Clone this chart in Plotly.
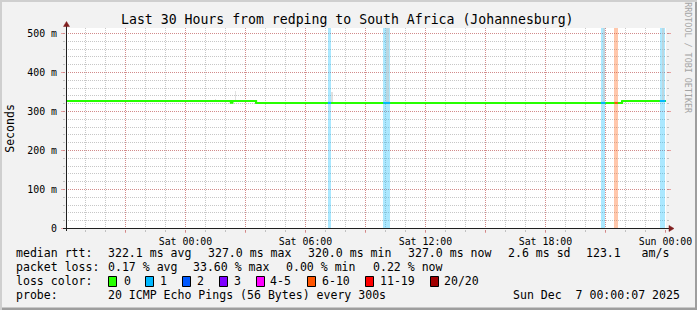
import plotly.graph_objects as go
import pandas as pd

# ---------------- data ----------------
x_start = "2025-12-05 18:01:37"
x_end = "2025-12-07 00:01:37"
y_min, y_max = -1.28, 514.1

x_tick_times = ["2025-12-05 21:00", "2025-12-06 00:00", "2025-12-06 03:00", "2025-12-06 06:00",
                "2025-12-06 09:00", "2025-12-06 12:00", "2025-12-06 15:00", "2025-12-06 18:00",
                "2025-12-06 21:00", "2025-12-07 00:00"]
x_tick_labels = ["", "Sat 00:00", "", "Sat 06:00", "", "Sat 12:00", "", "Sat 18:00", "", "Sun 00:00"]
y_tick_values = [0, 100, 200, 300, 400, 500]
y_tick_labels = ["0", "100 m", "200 m", "300 m", "400 m", "500 m"]

median_times = ["2025-12-05 18:00:07", "2025-12-06 02:16", "2025-12-06 02:21", "2025-12-06 03:32",
                "2025-12-06 21:50", "2025-12-07 00:01:37"]
median_ms = [327.0, 322.5, 327.0, 322.0, 327.0, 327.0]

loss_start = ["2025-12-06 07:07", "2025-12-06 09:53", "2025-12-06 20:46", "2025-12-06 21:27", "2025-12-06 23:43"]
loss_end = ["2025-12-06 07:17", "2025-12-06 10:14", "2025-12-06 21:00", "2025-12-06 21:37", "2025-12-07 00:00"]
loss_bucket = ["1", "1", "1", "6-10", "1"]

smoke_start = ["2025-12-06 01:28", "2025-12-06 02:28", "2025-12-06 07:17", "2025-12-06 10:02",
               "2025-12-06 20:52", "2025-12-06 23:50"]
smoke_end = ["2025-12-06 01:31", "2025-12-06 02:31", "2025-12-06 07:23", "2025-12-06 10:11",
             "2025-12-06 20:58", "2025-12-06 23:56"]
smoke_low = [327, 327, 324, 322, 322, 327]
smoke_high = [333, 353, 350, 514, 514, 514]

dark_start = ["2025-12-06 02:14", "2025-12-06 03:29", "2025-12-06 21:47"]
dark_end = ["2025-12-06 02:17", "2025-12-06 03:32", "2025-12-06 21:50"]
dark_low = [322, 322, 322]
dark_high = [327, 327, 327]

loss_labels = ["0", "1", "2", "3", "4-5", "6-10", "11-19", "20/20"]
loss_colors = ["#26ff00", "#00b8ff", "#0059ff", "#7e00ff", "#ff00ff", "#ff5500", "#ff0000", "#a10000"]

title_text = "Last 30 Hours from redping to South Africa (Johannesburg)"
rtt_head = "median rtt:"
rtt_stats = ["322.1 ms avg", "327.0 ms max", "320.0 ms min", "327.0 ms now", "2.6 ms sd", "123.1   am/s"]
loss_head = "packet loss:"
loss_stats = ["0.17 % avg", "33.60 % max", "0.00 % min", "0.22 % now"]
color_head = "loss color:"
probe_head = "probe:"
probe_text = "20 ICMP Echo Pings (56 Bytes) every 300s"
stamp_text = "Sun Dec  7 00:00:07 2025"
watermark = "RRDTOOL / TOBI OETIKER"
y_title = "Seconds"

# ---------------- layout geometry (pixels) ----------------
W, H = 697, 310
L, R, T, B = 66, 31, 28, 81
PW, PH = W - L - R, H - T - B
FONT = "DejaVu Sans Mono"
BACK = "#F2F2F2"
GRID = "rgba(143,143,143,0.5)"
MGRID = "rgba(222,79,79,0.5)"
ARROW = "#801F1F"
AXIS = "#1F1F1F"


def px(x):
    return (x - L) / PW


def py(y):
    return (H - B - y) / PH


def nb(s):
    return s.replace(" ", "\u00a0")


def rgba(hexc, a):
    h = hexc.lstrip("#")
    return "rgba(%d,%d,%d,%s)" % (int(h[0:2], 16), int(h[2:4], 16), int(h[4:6], 16), a)


bucket_color = dict(zip(loss_labels, loss_colors))
mt = [pd.Timestamp(t) for t in median_times]


def median_at(t):
    v = median_ms[0]
    for ti, vi in zip(mt, median_ms):
        if ti <= t:
            v = vi
    return v


def bar_geom(starts, ends):
    s = [pd.Timestamp(a) for a in starts]
    e = [pd.Timestamp(b) for b in ends]
    centers = [a + (b - a) / 2 for a, b in zip(s, e)]
    widths = [(b - a).total_seconds() * 1000 for a, b in zip(s, e)]
    return s, e, centers, widths

fig = go.Figure()

# loss background bars
ls, le, lc, lw = bar_geom(loss_start, loss_end)
fig.add_trace(go.Bar(x=lc, y=[y_max] * len(lc), base=[0] * len(lc), width=lw,
                     marker=dict(color=[rgba(bucket_color[b], 0.33) for b in loss_bucket], line=dict(width=0)),
                     hoverinfo="skip"))

# smoke
ss, se, sc, sw = bar_geom(smoke_start, smoke_end)
fig.add_trace(go.Bar(x=sc, y=[h - l for h, l in zip(smoke_high, smoke_low)], base=smoke_low, width=sw,
                     marker=dict(color="rgba(200,200,200,0.55)", line=dict(width=0)), hoverinfo="skip"))
ds, de, dc, dw = bar_geom(dark_start, dark_end)
fig.add_trace(go.Bar(x=dc, y=[h - l for h, l in zip(dark_high, dark_low)], base=dark_low, width=dw,
                     marker=dict(color="#303030", line=dict(width=0)), hoverinfo="skip"))

# median line
fig.add_trace(go.Scatter(x=median_times, y=median_ms, mode="lines",
                         line=dict(color=loss_colors[0], width=2, shape="hv"), hoverinfo="skip"))
for a, b, k in zip(ls, le, loss_bucket):
    v = median_at(a)
    fig.add_trace(go.Scatter(x=[a, b], y=[v, v], mode="lines",
                             line=dict(color=bucket_color[k], width=2), hoverinfo="skip"))

# invisible anchor trace for the major-grid overlay axes
fig.add_trace(go.Scatter(x=[x_start], y=[0], xaxis="x2", yaxis="y2", mode="markers",
                         marker=dict(opacity=0), hoverinfo="skip"))

fig.update_layout(
    width=W, height=H, margin=dict(l=L, r=R, t=T, b=B, pad=0, autoexpand=False),
    paper_bgcolor=BACK, plot_bgcolor="#FFFFFF", showlegend=False,
    barmode="overlay", bargap=0,
    font=dict(family=FONT, color="#000000"),
    xaxis=dict(type="date", range=[x_start, x_end], tickmode="linear", tick0="2025-12-06 00:00",
               dtick=3600000, showticklabels=False, showgrid=True, gridcolor=GRID, griddash="1px,1px",
               gridwidth=1, ticks="outside", ticklen=2, tickcolor=GRID, showline=False, zeroline=False,
               automargin=False, fixedrange=True),
    yaxis=dict(range=[y_min, y_max], tickmode="linear", tick0=0, dtick=20, showticklabels=False,
               showgrid=True, gridcolor=GRID, griddash="1px,1px", gridwidth=1, ticks="outside", ticklen=2,
               tickcolor=GRID, mirror="ticks", showline=False, zeroline=False, automargin=False,
               fixedrange=True),
    xaxis2=dict(type="date", range=[x_start, x_end], overlaying="x", side="bottom", anchor="y2",
                tickmode="array", tickvals=x_tick_times, ticktext=x_tick_labels,
                showgrid=True, gridcolor=MGRID, griddash="1px,1px", gridwidth=1,
                ticks="outside", ticklen=3, tickcolor=MGRID, tickfont=dict(size=9.9, family=FONT),
                showline=False, zeroline=False, automargin=False, fixedrange=True),
    yaxis2=dict(range=[y_min, y_max], overlaying="y", side="left", anchor="x2",
                tickmode="array", tickvals=y_tick_values, ticktext=y_tick_labels,
                showgrid=True, gridcolor=MGRID, griddash="1px,1px", gridwidth=1,
                ticks="outside", ticklen=4, tickcolor=MGRID, tickfont=dict(size=9.9, family=FONT),
                ticklabelstandoff=2, mirror="ticks", showline=False, zeroline=False, automargin=False,
                fixedrange=True),
)

shapes = []
shapes.append(dict(type="rect", xref="paper", yref="paper", x0=px(0), x1=px(W), y0=py(0), y1=py(2),
                   fillcolor="#CFCFCF", line=dict(width=0)))
shapes.append(dict(type="rect", xref="paper", yref="paper", x0=px(0), x1=px(2), y0=py(0), y1=py(H),
                   fillcolor="#CFCFCF", line=dict(width=0)))
shapes.append(dict(type="rect", xref="paper", yref="paper", x0=px(2), x1=px(W), y0=py(H - 2.5), y1=py(H),
                   fillcolor="#9E9E9E", line=dict(width=0)))
shapes.append(dict(type="rect", xref="paper", yref="paper", x0=px(W - 2), x1=px(W), y0=py(2), y1=py(H),
                   fillcolor="#9E9E9E", line=dict(width=0)))
shapes.append(dict(type="line", xref="paper", yref="paper", x0=px(66.5), x1=px(66.5), y0=py(231), y1=py(25),
                   line=dict(color=AXIS, width=1)))
shapes.append(dict(type="line", xref="paper", yref="paper", x0=px(63), x1=px(670), y0=py(228.5), y1=py(228.5),
                   line=dict(color=AXIS, width=1)))
shapes.append(dict(type="path", xref="paper", yref="paper",
                   path="M %f %f L %f %f L %f %f Z" % (px(66.5), py(21.5), px(63.5), py(26.5), px(69.5), py(26.5)),
                   fillcolor=ARROW, line=dict(color=ARROW, width=0.5)))
shapes.append(dict(type="path", xref="paper", yref="paper",
                   path="M %f %f L %f %f L %f %f Z" % (px(674), py(228.5), px(669), py(225.5), px(669), py(231.5)),
                   fillcolor=ARROW, line=dict(color=ARROW, width=0.5)))

annotations = []


def text(x, baseline, s, size, anchor="left", color="#000000"):
    annotations.append(dict(xref="paper", yref="paper", x=px(x), y=py(baseline - 0.346 * size),
                            xanchor=anchor, yanchor="middle", text=nb(s), showarrow=False,
                            borderpad=0, font=dict(family=FONT, size=size, color=color)))

LS = 11.55
text(347, 24, title_text, 13.2, anchor="center")

bl = [257.3, 271.3, 285.3, 299.3]
text(15.3, bl[0], rtt_head, LS)
for xx, s in zip([106.5, 206.5, 306.9, 406.5, 506.5, 585.2], rtt_stats):
    text(xx, bl[0], s, LS)
text(15.3, bl[1], loss_head, LS)
for xx, s in zip([106.5, 191.9, 285.2, 371.5], loss_stats):
    text(xx, bl[1], s, LS)
text(15.3, bl[2], color_head, LS)
box_x = [108, 145, 182, 219, 256, 307, 365, 430]
lab_x = [124, 160, 197, 234, 270, 322, 380, 443.6]
for bx, lx, lab, col in zip(box_x, lab_x, loss_labels, loss_colors):
    shapes.append(dict(type="rect", xref="paper", yref="paper", x0=px(bx + 0.5), x1=px(bx + 8.5),
                       y0=py(286.5), y1=py(276.5), fillcolor=col, line=dict(color="#000000", width=1)))
    text(lx - 0.8, bl[2], lab, LS)
text(15.3, bl[3], probe_head, LS)
text(106.5, bl[3], probe_text, LS)
text(680.5, bl[3], stamp_text, LS, anchor="right")

annotations.append(dict(xref="paper", yref="paper", x=px(9.3), y=py(128.5), text=y_title, textangle=-90,
                        showarrow=False, xanchor="center", yanchor="middle", borderpad=0,
                        font=dict(family=FONT, size=LS, color="#000000")))
annotations.append(dict(xref="paper", yref="paper", x=px(688.3), y=py(58.5), text=nb(watermark), textangle=90,
                        showarrow=False, xanchor="center", yanchor="middle", borderpad=0,
                        font=dict(family=FONT, size=8.4, color="#A4A4A4")))

fig.update_layout(shapes=shapes, annotations=annotations)
fig.write_html("out.html")
